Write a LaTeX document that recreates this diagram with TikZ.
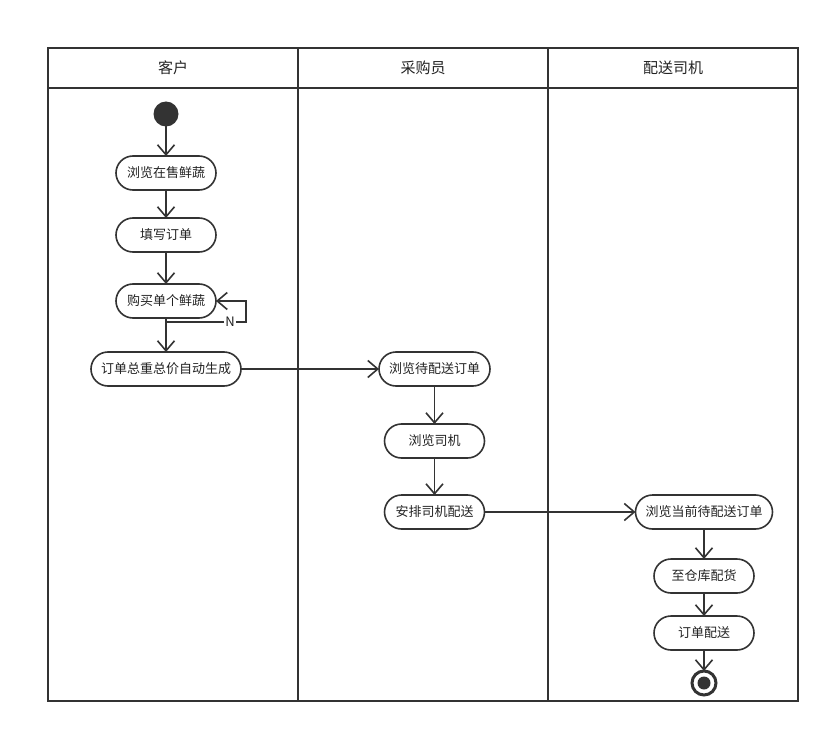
\documentclass[tikz,border=0pt]{standalone}
\usepackage{fontspec}
\newfontfamily\cjk{Noto Sans CJK SC}
\usetikzlibrary{arrows.meta,positioning}
\definecolor{linegray}{HTML}{333333}
\definecolor{textgray}{HTML}{222222}
\tikzset{
  frame/.style={draw=linegray, line width=1.8pt},
  lane head/.style={font=\cjk\fontsize{15}{17}\selectfont, text=textgray},
  act/.style={draw=linegray, line width=1.6pt, rounded corners=17pt, minimum width=100pt,
    minimum height=34pt, inner xsep=10pt, inner ysep=0pt, outer sep=0pt,
    font=\cjk\fontsize{13}{15}\selectfont, text=textgray},
  start/.style={circle, fill=linegray, minimum size=25pt, inner sep=0pt, outer sep=0pt},
  final/.style={circle, draw=linegray, line width=3pt, minimum size=24pt, inner sep=0pt, outer sep=0pt,
    path picture={\fill[linegray] (path picture bounding box.center) circle (6.5pt);}},
  flow/.style={draw=linegray, line width=1.6pt, -{Straight Barb[length=10pt,width=17pt]}},
}
\begin{document}
\begin{tikzpicture}[x=1pt,y=-1pt]
	\useasboundingbox (0,0) rectangle (830,733);

	% swimlanes
	\draw[frame] (48,48) rectangle (798,701);
	\draw[frame] (48,88) -- (798,88);
	\draw[frame] (298,48) -- (298,701);
	\draw[frame] (548,48) -- (548,701);
	\node[lane head] (hcust) at (173,68) {客户};
	\node[lane head] (hbuyer) at (423,68) {采购员};
	\node[lane head] (hdriver) at (673,68) {配送司机};

	% customer
	\node[start] (init) at (166,114) {};
	\node[act] (browse) at (166,173) {浏览在售鲜蔬};
	\node[act] (fill) at (166,235) {填写订单};
	\node[act] (buy) at (166,301) {购买单个鲜蔬};
	\node[act] (total) at (166,369) {订单总重总价自动生成};

	% buyer
	\node[act] (pending) at (434.5,369) {浏览待配送订单};
	\node[act] (drivers) at (434.5,441) {浏览司机};
	\node[act] (assign) at (434.5,512) {安排司机配送};

	% driver
	\node[act] (current) at (704,512) {浏览当前待配送订单};
	\node[act] (stock) at (704,576) {至仓库配货};
	\node[act] (deliver) at (704,633) {订单配送};
	\node[final] (done) at (704,683) {};

	\path[flow]
	(init) edge (browse)
	(browse) edge (fill)
	(fill) edge (buy)
	(buy) edge (total)
	(total) edge (pending)
	(pending) edge (drivers)
	(drivers) edge (assign)
	(assign) edge (current)
	(current) edge (stock)
	(stock) edge (deliver)
	(deliver) edge (done)
	;

	% loop back while buying
	\draw[flow] ([yshift=-4pt]buy.south) -| ([xshift=30pt]buy.east)
		node[pos=0.4, fill=white, inner sep=1pt, text=textgray, font=\cjk\fontsize{13}{15}\selectfont] {N}
		-- (buy.east);
\end{tikzpicture}
\end{document}
